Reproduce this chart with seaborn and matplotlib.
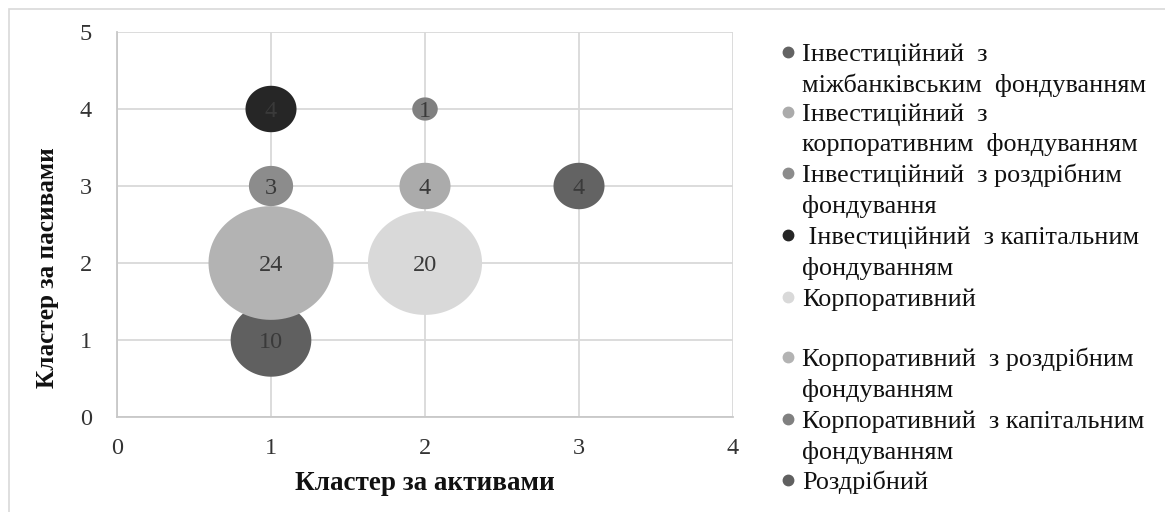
import numpy as np
import pandas as pd
import matplotlib
matplotlib.use("Agg")
import matplotlib.pyplot as plt
from matplotlib.path import Path
from matplotlib.markers import MarkerStyle
from matplotlib.colors import Normalize
from matplotlib.patches import Rectangle
from matplotlib.lines import Line2D
import seaborn as sns

# Bank business-model groups and their cluster coordinates
groups = [
    "Інвестиційний  з\nміжбанківським  фондуванням",
    "Інвестиційний  з\nкорпоративним  фондуванням",
    "Інвестиційний  з роздрібним\nфондування",
    " Інвестиційний  з капітальним\nфондуванням",
    "Корпоративний",
    "Корпоративний  з роздрібним\nфондуванням",
    "Корпоративний  з капітальним\nфондуванням",
    "Роздрібний",
]
asset_cluster = [3, 2, 1, 1, 2, 1, 2, 1]
liability_cluster = [3, 3, 3, 4, 2, 2, 4, 1]
bank_count = [4, 4, 3, 4, 20, 24, 1, 10]
colors = ["#636363", "#ababab", "#8c8c8c", "#262626",
          "#d9d9d9", "#b3b3b3", "#808080", "#606060"]

x_ticks = [0, 1, 2, 3, 4]
y_ticks = [0, 1, 2, 3, 4, 5]

sns.set_theme(style="white")
plt.rcParams["font.family"] = ["Liberation Serif", "DejaVu Serif"]

W, H = 1165, 512
fig = plt.figure(figsize=(W / 100, H / 100), dpi=100)
ax = fig.add_axes([117 / W, 1 - 417 / H, (733 - 117) / W, (417 - 32) / H])

df = pd.DataFrame({
    "group": groups,
    "assets": asset_cluster,
    "liabilities": liability_cluster,
    "count": bank_count,
}).sort_values("count", kind="stable")

# slightly wide ellipse used as the bubble shape
t = np.linspace(0, 2 * np.pi, 100)
ell = Path(np.column_stack([np.cos(t), 0.91 * np.sin(t)]), closed=True)
bubble = MarkerStyle(ell)

max_area = (125 * 0.72) ** 2
sns.scatterplot(
    data=df, x="assets", y="liabilities", hue="group", size="count",
    palette=dict(zip(groups, colors)), sizes=(0, max_area),
    size_norm=Normalize(0, max(bank_count)), marker=bubble,
    linewidth=0, alpha=1, legend=False, ax=ax, zorder=3,
)

for xv, yv, c in zip(asset_cluster, liability_cluster, bank_count):
    ax.text(xv, yv, str(c), ha="center", va="center_baseline", fontsize=17.5,
            color="#3a3a3a", zorder=4)

grid_c = "#d9d9d9"
ax.set_xlim(0, 4)
ax.set_ylim(0, 5)
ax.set_xticks(x_ticks)
ax.set_yticks(y_ticks)
ax.grid(True, color=grid_c, linewidth=1.3, zorder=0)
ax.set_axisbelow(True)
for side in ["top", "right"]:
    ax.spines[side].set_visible(False)
for side in ["left", "bottom"]:
    ax.spines[side].set_color("#c8c8c8")
    ax.spines[side].set_linewidth(1.3)
ax.tick_params(axis="both", length=0, labelsize=17.5, colors="#333333")
ax.tick_params(axis="x", pad=15)
ax.tick_params(axis="y", pad=18)
ax.set_xlabel("Кластер за активами", fontsize=19.5, fontweight="bold",
              color="#111111")
ax.set_ylabel("Кластер за пасивами", fontsize=18.2, fontweight="bold",
              color="#111111")
ax.xaxis.set_label_coords((425 - 117) / 616, -(483 - 417) / 385)
ax.yaxis.set_label_coords((48 - 117) / 616, (417 - 268) / 385)
ax.xaxis.label.set_va("center")
ax.yaxis.label.set_va("center")

# legend drawn entry by entry: marker aligned with the first text line
legend_rows = [52, 112, 173, 235, 297, 357, 419, 480]
line_step = 30.5
for lab, col, yp in zip(groups, colors, legend_rows):
    fig.add_artist(Line2D([788 / W], [1 - yp / H], marker="o", markersize=7.5,
                          color=col, linestyle="none", transform=fig.transFigure))
    for k, line in enumerate(lab.split("\n")):
        fig.text(802 / W, 1 - (yp + k * line_step) / H, line, ha="left",
                 va="center_baseline", fontsize=18.8, color="#111111")

# outer chart border
fig.add_artist(Rectangle((9 / W, -0.05), 1.0, 1 - 9 / H + 0.05,
                         transform=fig.transFigure, fill=False,
                         edgecolor="#d9d9d9", linewidth=1.2))

fig.savefig("out.png", dpi=100)
